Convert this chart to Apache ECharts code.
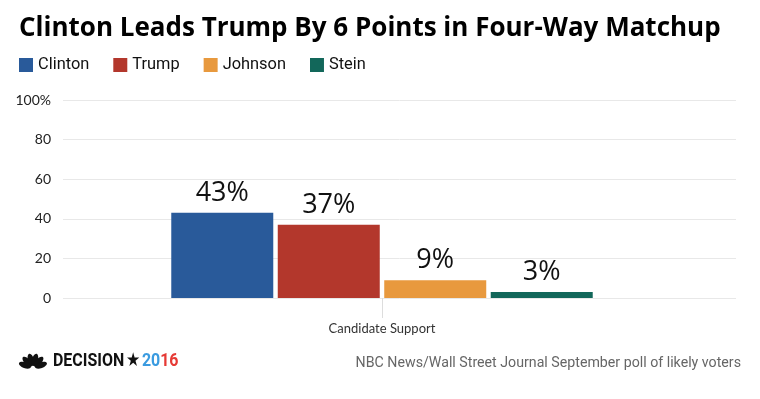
<!DOCTYPE html>
<html>
<head>
<meta charset="utf-8">
<script src="https://cdn.jsdelivr.net/npm/echarts@6/dist/echarts.min.js"></script>
<style>
  html, body { margin: 0; padding: 0; background: #fff; }
  #chart { width: 760px; height: 399px; }
</style>
</head>
<body>
<div id="chart"></div>
<script>
// data
const categories = ["Candidate Support"];
const candidates = ["Clinton", "Trump", "Johnson", "Stein"];
const support = [43, 37, 9, 3];
const colors = ["#295a9a", "#b3372c", "#e8993e", "#12675a"];
const yTicks = [0, 20, 40, 60, 80, 100];

let myChart = echarts.init(document.getElementById("chart"));

let series = candidates.map((name, i) => ({
  name: name,
  type: "bar",
  xAxisIndex: 1,
  yAxisIndex: 1,
  data: [support[i]],
  barWidth: 102,
  barGap: "4.4%",
  itemStyle: { color: colors[i] },
  label: {
    show: true,
    position: "top",
    distance: 6,
    formatter: "{c}%",
    fontFamily: "'Open Sans', sans-serif",
    fontSize: 27,
    color: "#111"
  }
}));

// peacock feathers for the footer logo
let feathers = [-70, -42, -14, 14, 42, 70].map(a => {
  let r = a * Math.PI / 180;
  return {
    type: "ellipse",
    x: 15 + Math.sin(r) * 8.5,
    y: 14 - Math.cos(r) * 8.5,
    rotation: -r,
    shape: { cx: 0, cy: 0, rx: 3, ry: 6.3 },
    style: { fill: "#111" }
  };
});

let option = {
  animation: false,
  backgroundColor: "#fff",
  title: {
    text: "Clinton Leads Trump By 6 Points in Four-Way Matchup",
    left: 14,
    top: 11,
    textStyle: {
      fontFamily: "'Open Sans', sans-serif",
      fontWeight: "bold",
      fontSize: 26,
      color: "#000"
    }
  },
  legend: {
    left: 14,
    top: 52,
    icon: "rect",
    itemWidth: 14,
    itemHeight: 14,
    itemGap: 24,
    data: candidates,
    textStyle: { fontFamily: "Roboto, sans-serif", fontSize: 16.4, color: "#111" }
  },
  grid: [
    { left: 63, right: 24, top: 100, bottom: 101 },
    { left: 63, width: 638, top: 100, bottom: 101 }
  ],
  xAxis: [
    {
      gridIndex: 0,
      type: "category",
      data: [""],
      axisLine: { show: false },
      axisTick: { show: false },
      axisLabel: { show: false }
    },
    {
      gridIndex: 1,
      type: "category",
      data: categories,
      axisLine: { show: false },
      axisTick: { show: true, alignWithLabel: true, length: 20, lineStyle: { color: "#ddd" } },
      axisLabel: { margin: 24, fontFamily: "Lato, sans-serif", fontSize: 13, color: "#333" }
    }
  ],
  yAxis: [
    {
      gridIndex: 0,
      type: "value",
      min: 0,
      max: 100,
      interval: 20,
      axisLine: { show: false },
      axisTick: { show: false },
      splitLine: { lineStyle: { color: "#e8e8e8", width: 1 } },
      axisLabel: {
        margin: 12,
        fontFamily: "Lato, sans-serif",
        fontSize: 14,
        color: "#222",
        formatter: v => (v === yTicks[yTicks.length - 1] ? v + "%" : String(v))
      }
    },
    {
      gridIndex: 1,
      type: "value",
      min: 0,
      max: 100,
      show: false,
      splitLine: { show: false }
    }
  ],
  graphic: [
    { type: "group", left: 18, top: 353, children: feathers },
    {
      type: "text",
      x: 53,
      y: 352,
      scaleX: 0.84,
      style: {
        rich: {
          d: { fontFamily: "Roboto, sans-serif", fontWeight: "bold", fontSize: 19, fill: "#111" },
          s: { fontFamily: "'DejaVu Sans', sans-serif", fontSize: 19, fill: "#111", padding: [0, 2, 0, 2] },
          b: { fontFamily: "Roboto, sans-serif", fontWeight: "bold", fontSize: 19, fill: "#3a9be0" },
          r: { fontFamily: "Roboto, sans-serif", fontWeight: "bold", fontSize: 19, fill: "#e63a35" }
        },
        text: "{d|DECISION}{s|★}{b|20}{r|16}"
      }
    },
    {
      type: "text",
      right: 19,
      top: 356,
      style: {
        text: "NBC News/Wall Street Journal September poll of likely voters",
        fontFamily: "Roboto, sans-serif",
        fontSize: 14.2,
        fill: "#666"
      }
    }
  ],
  series: series
};

myChart.setOption(option);
</script>
</body>
</html>
